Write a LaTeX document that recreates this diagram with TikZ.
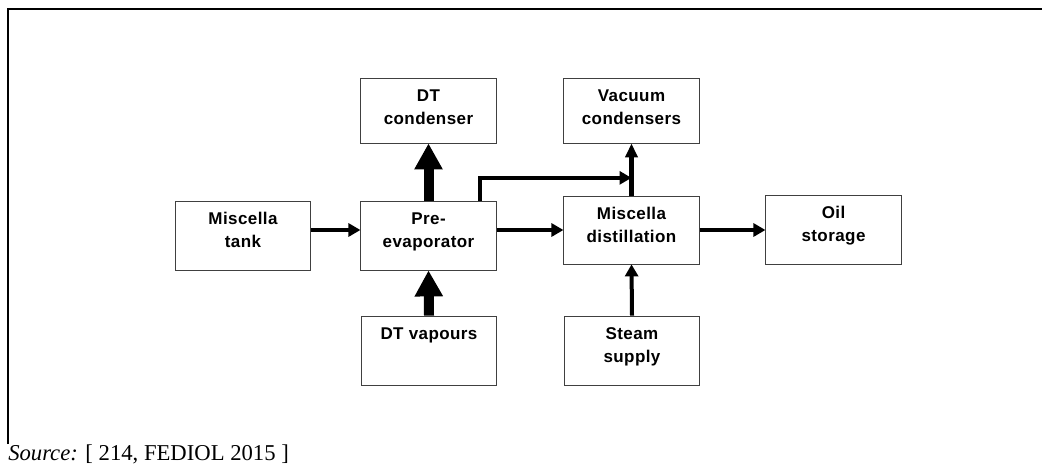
\documentclass[tikz,border=0pt]{standalone}
\usepackage{fontspec}
\setmainfont{Liberation Serif}
\newfontfamily\blokfont[LetterSpace=2.5]{Liberation Sans}
\usetikzlibrary{arrows.meta,calc}
\tikzset{
  blok/.style={draw=black!75,line width=0.6pt,minimum width=101.5pt,inner sep=0pt},
  felirat/.style={anchor=north,yshift=-8.7pt,align=center,inner sep=0pt,
    font=\blokfont\bfseries\fontsize{12.75}{17.25}\selectfont},
  vek/.style={line width=3pt,-{Triangle[length=9pt,width=9.75pt]}},
  kozep/.style={line width=3.5pt,-{Triangle[length=10.5pt,width=9pt]}},
  vastag/.style={line width=7.5pt,-{Triangle[length=19.5pt,width=20pt]}},
}

\begin{document}
\begin{tikzpicture}[x=0.75pt,y=-0.75pt]
  \useasboundingbox (0,0) rectangle (1042,468);
  \draw[line width=1.5pt] (8,444) -- (8,9) -- (1042,9);
  % middle row
  \node[blok,minimum height=51.75pt,label={[felirat]north:Miscella\\tank}] (tank) at (243,235.5) {};
  \node[blok,minimum height=51.75pt,label={[felirat]north:Pre-\\evaporator}] (pre) at (428.5,235.5) {};
  \node[blok,minimum height=51pt,label={[felirat]north:Miscella\\distillation}] (dist) at (631.5,230) {};
  \node[blok,minimum height=51.75pt,label={[felirat]north:Oil\\storage}] (oil) at (833.5,229.5) {};
  % top row
  \node[blok,minimum height=48.75pt,label={[felirat]north:DT\\condenser}] (dtc) at (428.5,110.5) {};
  \node[blok,minimum height=48.75pt,label={[felirat]north:Vacuum\\condensers}] (vac) at (631.5,110.5) {};
  % bottom row
  \node[blok,minimum height=51.75pt,label={[felirat]north:DT vapours}] (dtv) at (429,350.5) {};
  \node[blok,minimum height=51.75pt,label={[felirat]north:Steam\\supply}] (steam) at (632,350.5) {};
  \node[anchor=base west,inner sep=0pt,font=\fontsize{17}{18}\selectfont] (forras) at (8,460)
    {\textit{Source:} [ 214, FEDIOL 2015 ]};
  % connectors
  \draw[vek] (tank.east |- dist.west) -- (pre.west |- dist.west);
  \draw[vek] (pre.east |- dist.west) -- (dist.west);
  \draw[vek] (dist.east) -- (oil.west |- dist.east);
  \draw[vastag] (pre.north) -- (dtc.south);
  \draw[vastag] (dtv.north) -- (pre.south);
  \draw[vek] (steam.north) -- (dist.south);
  \draw[kozep] (dist.north) -- (vac.south);
  \coordinate (bendstart) at ($(pre.north east)+(-17,0)$);
  \coordinate (join) at ($(vac.south)!0.66!(dist.north)$);
  \draw[vek] (bendstart) |- (join);
\end{tikzpicture}
\end{document}
